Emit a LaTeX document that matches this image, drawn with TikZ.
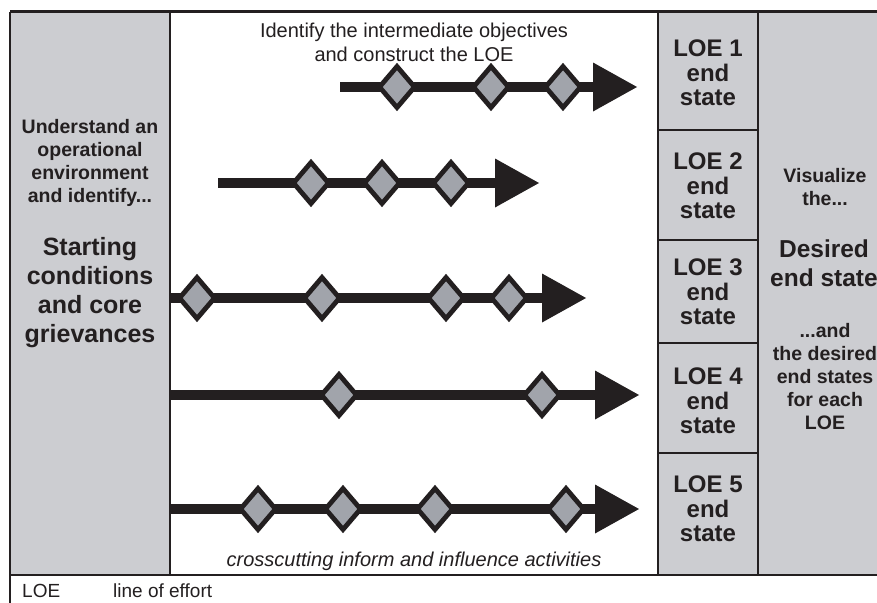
\documentclass[tikz,border=0pt]{standalone}
\usepackage{fontspec}
\setmainfont{Liberation Sans}
\definecolor{dk}{RGB}{35,31,32}
\definecolor{lg}{RGB}{204,205,209}
\definecolor{dg}{RGB}{161,164,171}
\begin{document}
\begin{tikzpicture}[x=1pt,y=-1pt,
  frameline/.style={draw=dk,line width=2.2pt},
  colfill/.style={fill=lg},
  msd/.style={draw=dk,fill=dg,line width=4.8pt,line join=miter},
  shaft/.style={draw=dk,line width=10pt},
  headfill/.style={fill=dk},
  smallb/.style={font=\bfseries\fontsize{19.5}{23}\selectfont,align=center,inner sep=0pt,text=dk},
  bigb/.style={font=\bfseries\fontsize{25}{29}\selectfont,align=center,inner sep=0pt,text=dk},
  loeb/.style={font=\bfseries\fontsize{24}{24.5}\selectfont,align=center,inner sep=0pt,text=dk},
  plain/.style={font=\fontsize{20}{24}\selectfont,align=center,inner sep=0pt,text=dk}
]
\useasboundingbox (0,0) rectangle (877,602);
\clip (0,0) rectangle (877,602);
\fill[white] (0,0) rectangle (877,602);
% column fills
\fill[colfill] (10,12) rectangle (170,575);
\fill[colfill] (658,12) rectangle (758,575);
\fill[colfill] (758,12) rectangle (880,575);
% frame lines
\draw[frameline,line width=3pt] (10,12) -- (880,12);
\draw[frameline] (10,12) -- (10,605);
\draw[frameline,line width=2.6pt] (10,575) -- (880,575);
\draw[frameline] (170,12) -- (170,575);
\draw[frameline] (658,12) -- (658,575);
\draw[frameline] (758,12) -- (758,575);
\draw[frameline] (658,130) -- (758,130);
\draw[frameline] (658,240) -- (758,240);
\draw[frameline] (658,343) -- (758,343);
\draw[frameline] (658,453) -- (758,453);

% arrows
\coordinate (a1s) at (340,87);  \coordinate (a1b) at (593,87);
\coordinate (a2s) at (218,183); \coordinate (a2b) at (495,183);
\coordinate (a3s) at (170,298); \coordinate (a3b) at (542,298);
\coordinate (a4s) at (170,395); \coordinate (a4b) at (595,395);
\coordinate (a5s) at (170,509); \coordinate (a5b) at (595,509);
\foreach \a in {a1,a2,a3,a4,a5}{
  \draw[shaft] (\a s) -- ([xshift=3pt]\a b);
  \fill[headfill] (\a b) ++(0,-24.5) -- ++(44,24.5) -- ++(-44,24.5) -- cycle;
}
% milestones
\foreach \n/\x/\y in {m11/397/87, m12/491/87, m13/563/87,
                      m21/311/183, m22/382/183, m23/451/183,
                      m31/197/298, m32/322/298, m33/446/298, m34/509/298,
                      m41/339/395, m42/542/395,
                      m51/258/509, m52/343/509, m53/435/509, m54/566/509}{
  \coordinate (\n) at (\x,\y);
  \draw[msd] (\n) ++(-17.5,0) -- ++(17.5,-20.5) -- ++(17.5,20.5) -- ++(-17.5,20.5) -- cycle;
}

% texts
\node[plain] (top) at (414,42) {Identify the intermediate objectives\\and construct the LOE};
\node[plain,font=\itshape\fontsize{20}{24}\selectfont] (bottom) at (414,561) {crosscutting inform and influence activities};
\node[smallb] (und) at (90,163) {Understand an\\operational\\environment\\and identify...};
\node[bigb] (start) at (90,293) {Starting\\conditions\\and core\\grievances};
\node[loeb] (l1) at (708,73) {LOE 1\\end\\state};
\node[loeb] (l2) at (708,186) {LOE 2\\end\\state};
\node[loeb] (l3) at (708,292) {LOE 3\\end\\state};
\node[loeb] (l4) at (708,401) {LOE 4\\end\\state};
\node[loeb] (l5) at (708,509) {LOE 5\\end\\state};
\node[smallb] (vis) at (825,187) {Visualize\\the...};
\node[bigb,font=\bfseries\fontsize{24.5}{29}\selectfont] (des) at (824,263) {Desired\\end state};
\node[smallb] (andd) at (825,377) {...and\\the desired\\end states\\for each\\LOE};
\node[plain,anchor=base west,font=\fontsize{19}{23}\selectfont] (leg1) at (22,597) {LOE};
\node[plain,anchor=base west,font=\fontsize{19}{23}\selectfont] (leg2) at (113,597) {line of effort};
\end{tikzpicture}
\end{document}
